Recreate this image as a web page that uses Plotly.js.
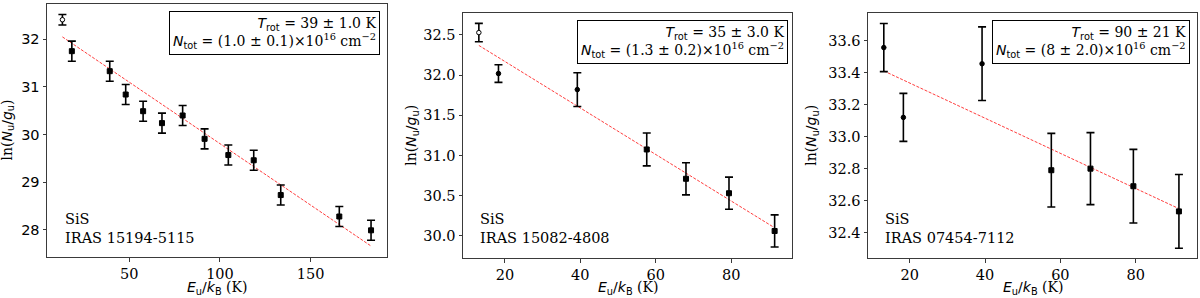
<!DOCTYPE html>
<html>
<head>
<meta charset="utf-8">
<script src="https://cdn.plot.ly/plotly-3.0.1.min.js"></script>
<style>html,body{margin:0;padding:0;background:#fff;}#chart{width:1200px;height:298px;}</style>
</head>
<body>
<div id="chart"></div>
<script>
// ---- Data ----
// Panel 1: IRAS 15194-5115
const p1E   = [13.1, 18.3, 39.2, 48.0, 57.6, 68.0, 79.4, 91.5, 104.6, 118.6, 133.5, 165.8, 183.3];
const p1Y   = [32.41, 31.75, 31.33, 30.84, 30.49, 30.24, 30.40, 29.91, 29.57, 29.46, 28.73, 28.28, 27.99];
const p1Err = [0.11, 0.21, 0.21, 0.21, 0.21, 0.21, 0.21, 0.21, 0.21, 0.21, 0.21, 0.21, 0.21];
const p1Sym = ['open', 'sq', 'sq', 'sq', 'sq', 'sq', 'sq', 'sq', 'sq', 'sq', 'sq', 'sq', 'sq'];
const p1FitE = [13.1, 183.3];
const p1FitY = [32.05, 27.66];

// Panel 2: IRAS 15082-4808
const p2E   = [13.1, 18.3, 39.2, 57.6, 68.0, 79.4, 91.5];
const p2Y   = [32.53, 32.02, 31.82, 31.075, 30.71, 30.53, 30.06];
const p2Err = [0.115, 0.11, 0.21, 0.205, 0.20, 0.20, 0.20];
const p2Sym = ['open', 'dot', 'dot', 'sq', 'sq', 'sq', 'sq'];
const p2FitE = [13.1, 91.5];
const p2FitY = [32.37, 30.10];

// Panel 3: IRAS 07454-7112
const p3E   = [13.1, 18.3, 39.2, 57.6, 68.0, 79.4, 91.5];
const p3Y   = [33.556, 33.12, 33.455, 32.79, 32.80, 32.69, 32.533];
const p3Err = [0.15, 0.15, 0.23, 0.23, 0.225, 0.23, 0.23];
const p3Sym = ['dot', 'dot', 'dot', 'sq', 'sq', 'sq', 'sq'];
const p3FitE = [13.1, 91.5];
const p3FitY = [33.41, 32.55];

const labels = ['SiS<br>IRAS 15194-5115', 'SiS<br>IRAS 15082-4808', 'SiS<br>IRAS 07454-7112'];
const Trot = ['39 ± 1.0', '35 ± 3.0', '90 ± 21'];
const Ntot = ['(1.0 ± 0.1)', '(1.3 ± 0.2)', '(8 ± 2.0)'];

// ---- Layout geometry (pixels) ----
const W = 1200, H = 298;
const panels = [
  {x0: 47, x1: 387, y0: 4, y1: 257, xr: [4.6, 192.1], yr: [27.43, 32.74], dx: 50, dy: 1, yfmt: 'd', ysans: true,
   box: {r: 380, t: 10.7}, lab: {x: 63, b: 248}, ytx: 8},
  {x0: 463, x1: 792, y0: 13.3, y1: 258.3, xr: [8.9, 96.1], yr: [29.72, 32.77], dx: 20, dy: 0.5, yfmt: '.1f', ysans: false,
   box: {r: 788, t: 20}, lab: {x: 478, b: 248}, ytx: 412},
  {x0: 868, x1: 1197, y0: 13.3, y1: 258.3, xr: [8.9, 96.3], yr: [32.24, 33.77], dx: 20, dy: 0.2, yfmt: '.1f', ysans: false,
   box: {r: 1189.5, t: 20}, lab: {x: 883, b: 248}, ytx: 812}
];
const data = [[p1E, p1Y, p1Err, p1Sym, p1FitE, p1FitY], [p2E, p2Y, p2Err, p2Sym, p2FitE, p2FitY], [p3E, p3Y, p3Err, p3Sym, p3FitE, p3FitY]];

const SERIF = 'DejaVu Serif, serif';
const SANS = 'DejaVu Sans, sans-serif';
const FS = 14.5;
const frame = '#3a3a3a';

const traces = [];
const layout = {
  width: W, height: H, margin: {l: 0, r: 0, t: 0, b: 0},
  paper_bgcolor: '#fff', plot_bgcolor: '#fff', showlegend: false,
  font: {family: SERIF, size: FS, color: '#000'},
  annotations: []
};

function sans(t) { return '<span style="font-family:DejaVu Sans">' + t + '</span>'; }

panels.forEach((p, i) => {
  const n = i + 1;
  const xa = 'xaxis' + (n === 1 ? '' : n), ya = 'yaxis' + (n === 1 ? '' : n);
  const xr = 'x' + (n === 1 ? '' : n), yr = 'y' + (n === 1 ? '' : n);
  const [E, Y, Er, Sym, FE, FY] = data[i];

  traces.push({
    type: 'scatter', mode: 'lines', x: FE, y: FY, xaxis: xr, yaxis: yr,
    line: {color: 'rgba(255,40,40,0.9)', width: 1, dash: '3px,1.5px'}, hoverinfo: 'skip'
  });
  traces.push({
    type: 'scatter', mode: 'markers', x: E, y: Y, xaxis: xr, yaxis: yr,
    error_y: {type: 'data', array: Er, visible: true, color: '#000', thickness: 1.6, width: 4},
    marker: {
      symbol: Sym.map(s => s === 'sq' ? 'square' : 'circle'),
      size: Sym.map(s => s === 'sq' ? 5 : 4.5),
      color: Sym.map(s => s === 'open' ? '#fff' : '#000'),
      opacity: 1,
      line: {color: '#000', width: 1}
    }
  });

  layout[xa] = {
    domain: [p.x0 / W, p.x1 / W], anchor: yr, range: p.xr, dtick: p.dx, tick0: 0,
    showgrid: false, zeroline: false, showline: true, mirror: true, linecolor: frame, linewidth: 1,
    ticks: 'outside', ticklen: 3.5, tickwidth: 1, tickcolor: frame,
    tickfont: {family: SERIF, size: FS, color: '#000'}
  };
  layout[ya] = {
    domain: [(H - p.y1) / H, (H - p.y0) / H], anchor: xr, range: p.yr, dtick: p.dy, tick0: 0,
    tickformat: p.yfmt,
    showgrid: false, zeroline: false, showline: true, mirror: true, linecolor: frame, linewidth: 1,
    ticks: 'outside', ticklen: 3.5, tickwidth: 1, tickcolor: frame,
    tickfont: {family: p.ysans ? SANS : SERIF, size: FS, color: '#000'}
  };

  // fit-result box
  layout.annotations.push({
    xref: 'paper', yref: 'paper', x: p.box.r / W, y: (H - p.box.t) / H, xanchor: 'right', yanchor: 'top',
    align: 'right', showarrow: false, bgcolor: '#fff', bordercolor: '#000', borderwidth: 1, borderpad: 3,
    font: {family: SERIF, size: 14, color: '#000'},
    text: sans('<i>T</i><sub>rot</sub>') + ' = ' + Trot[i] + ' K<br>' +
          sans('<i>N</i><sub>tot</sub>') + ' = ' + Ntot[i] + '×10<sup>16</sup> cm<sup>−2</sup>'
  });
  // source label
  layout.annotations.push({
    xref: 'paper', yref: 'paper', x: p.lab.x / W, y: (H - p.lab.b) / H, xanchor: 'left', yanchor: 'bottom',
    align: 'left', showarrow: false, font: {family: SERIF, size: FS, color: '#000'}, text: labels[i]
  });
  // x title
  layout.annotations.push({
    xref: 'paper', yref: 'paper', x: (p.x0 + p.x1) / 2 / W, y: 0, xanchor: 'center', yanchor: 'bottom',
    borderpad: 0, showarrow: false, font: {family: SERIF, size: 14, color: '#000'},
    text: sans('<i>E</i><sub>u</sub>/<i>k</i><sub>B</sub>') + ' (K)'
  });
  // y title
  layout.annotations.push({
    xref: 'paper', yref: 'paper', x: p.ytx / W, y: (H - (p.y0 + p.y1) / 2) / H, xanchor: 'center', yanchor: 'middle',
    textangle: -90, showarrow: false, font: {family: SERIF, size: 14, color: '#000'},
    text: 'ln(' + sans('<i>N</i><sub>u</sub>/<i>g</i><sub>u</sub>') + ')'
  });
});

Plotly.newPlot('chart', traces, layout, {staticPlot: true, displayModeBar: false});
</script>
</body>
</html>
